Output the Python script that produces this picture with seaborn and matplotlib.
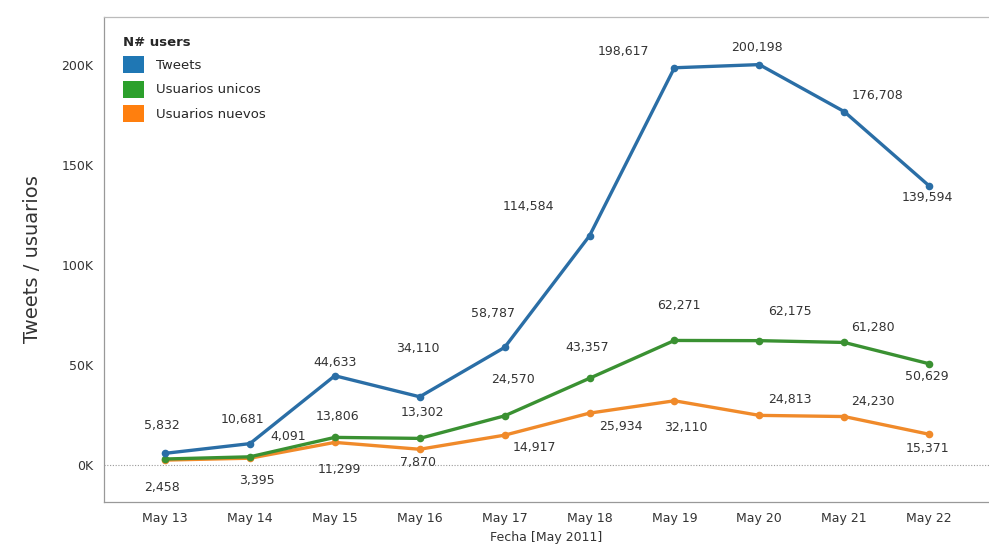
import matplotlib
matplotlib.use("Agg")
import matplotlib.pyplot as plt
import seaborn as sns
import pandas as pd
from matplotlib.patches import Patch
from matplotlib.ticker import FuncFormatter

# data
dates = ["May 13", "May 14", "May 15", "May 16", "May 17",
         "May 18", "May 19", "May 20", "May 21", "May 22"]
tweets = [5832, 10681, 44633, 34110, 58787, 114584, 198617, 200198, 176708, 139594]
unicos = [3000, 4091, 13806, 13302, 24570, 43357, 62271, 62175, 61280, 50629]
nuevos = [2458, 3395, 11299, 7870, 14917, 25934, 32110, 24813, 24230, 15371]
# which points carry a value label (first green point is hidden in the original)
show_unicos = [False] + [True] * 9

series_names = ["Tweets", "Usuarios unicos", "Usuarios nuevos"]
colors = {"Tweets": "#1f77b4", "Usuarios unicos": "#2ca02c", "Usuarios nuevos": "#ff7f0e"}
line_colors = {"Tweets": "#2a6ea6", "Usuarios unicos": "#3a9132", "Usuarios nuevos": "#f08a2a"}

# label offsets in pixels (dx, dy up), as placed in the original
off_tweets = [(-3, 28), (-7, 24), (0, 13), (-2, 48), (-12, 34),
              (-61, 29), (-51, 16), (-2, 17), (33, 16), (-2, -12)]
off_unicos = [(0, 0), (38, 20), (3, 21), (3, 26), (8, 36),
              (-2, 31), (4, 35), (31, 29), (29, 15), (-2, -13)]
off_nuevos = [(-3, -27), (7, -22), (5, -27), (-2, -13), (30, -12),
              (31, -13), (11, -27), (31, 16), (29, 15), (-2, -14)]

df = pd.DataFrame({
    "idx": list(range(len(dates))) * 3,
    "value": tweets + unicos + nuevos,
    "serie": ["Tweets"] * 10 + ["Usuarios unicos"] * 10 + ["Usuarios nuevos"] * 10,
})

sns.set_style("white")
plt.rcParams["font.family"] = ["DejaVu Sans"]

fig = plt.figure(figsize=(9.89, 5.56), dpi=100)
ax = fig.add_axes([104 / 989, 1 - 502 / 556, 1 - 104 / 989, (502 - 17) / 556])

for name in ["Usuarios nuevos", "Usuarios unicos", "Tweets"]:
    sub = df[df["serie"] == name]
    sns.lineplot(data=sub, x="idx", y="value", color=line_colors[name], lw=2.4,
                 marker="o", markersize=5.5, markeredgewidth=0, ax=ax, zorder=3)

ax.axhline(0, color="#999999", lw=0.8, ls=(0, (1, 1.5)), zorder=1)

px = 0.72
for vals, offs, flags in [(tweets, off_tweets, [True] * 10),
                          (unicos, off_unicos, show_unicos),
                          (nuevos, off_nuevos, [True] * 10)]:
    for i, (v, o, f) in enumerate(zip(vals, offs, flags)):
        if not f:
            continue
        ax.annotate(f"{v:,}", (i, v), xytext=(o[0] * px, o[1] * px),
                    textcoords="offset points", ha="center", va="center",
                    fontsize=9, color="#333333", zorder=4)

ax.set_xlim(-(165 - 104) / 84.9, (989 - 165) / 84.9)
ax.set_ylim(-(502 - 465) * 500, (465 - 17) * 500)
ax.set_xticks(range(len(dates)))
ax.set_xticklabels(dates)
ax.set_yticks([0, 50000, 100000, 150000, 200000])
ax.yaxis.set_major_formatter(FuncFormatter(lambda v, p: f"{int(v / 1000)}K"))
ax.tick_params(axis="both", labelsize=9, labelcolor="#333333", colors="#888888",
               length=4, width=0.8, direction="out")
ax.tick_params(axis="both", labelcolor="#333333")
ax.set_xlabel("Fecha [May 2011]", fontsize=9, color="#333333", labelpad=4)
ax.set_ylabel("Tweets / usuarios", fontsize=14, color="#333333", labelpad=14)

for s in ["left", "bottom"]:
    ax.spines[s].set_color("#999999")
    ax.spines[s].set_linewidth(0.9)
ax.spines["top"].set_color("#bbbbbb")
ax.spines["top"].set_linewidth(0.9)
ax.spines["right"].set_visible(False)

handles = [Patch(facecolor=colors[n], edgecolor="none") for n in series_names]
leg = ax.legend(handles, series_names, title="N# users", loc="upper left",
                bbox_to_anchor=(0.008, 0.985), frameon=False, fontsize=9.5,
                handlelength=1.6, handleheight=1.6, handletextpad=0.9,
                labelspacing=0.55, borderaxespad=0.5)
leg.get_title().set_fontweight("bold")
leg.get_title().set_fontsize(9.5)
leg._legend_box.align = "left"

fig.savefig("out.png", dpi=100)
